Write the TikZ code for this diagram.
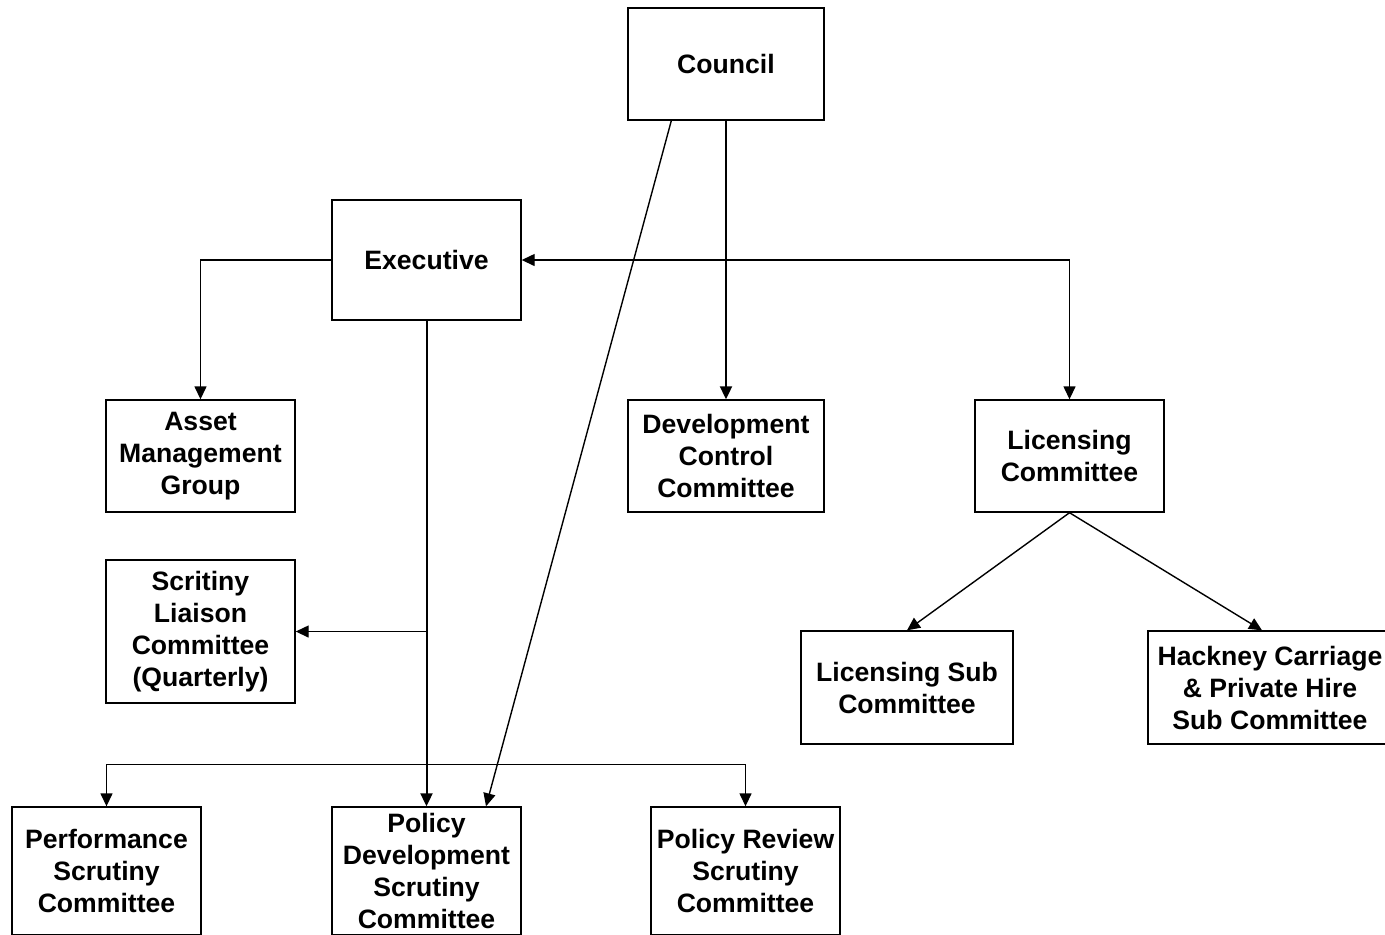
\documentclass[tikz,border=0pt]{standalone}
\usepackage{fontspec}
\setmainfont{Liberation Sans}
\usetikzlibrary{arrows.meta, positioning, calc}

\begin{document}
\begin{tikzpicture}[
      x=0.5pt, y=-0.5pt,
      box/.style={rectangle, draw, line width=0.7pt, align=center,
                  minimum width=94.5pt, minimum height=56pt,
                  font=\fontsize{13.3}{16}\selectfont\bfseries, inner sep=0pt},
      arr/.style={line width=0.7pt, -{Triangle[length=6.5pt, width=6pt]}},
      dbl/.style={line width=0.7pt, {Triangle[length=6.5pt, width=6pt]}-{Triangle[length=6.5pt, width=6pt]}}
    ]
    \useasboundingbox (0,0) rectangle (1385,934);

    \node[box, minimum width=98pt] (council) at (726,64) {Council};
    \node[box, minimum height=60pt] (exec) at (426.5,260) {Executive};

    \node[box] (asset) at (200.5,456) {Asset\\Management\\Group};
    \node[box, minimum width=98pt] (devctrl) at (726,456) {Development\\Control\\Committee};
    \node[box] (lic) at (1069.5,456) {Licensing\\Committee};

    \node[box, minimum height=71.5pt] (liaison) at (200.5,631.5) {Scritiny\\Liaison\\Committee\\(Quarterly)};
    \node[box, minimum width=106pt, minimum height=56.5pt] (licsub) at (907,687.5) {Licensing Sub\\Committee};
    \node[box, minimum width=122pt, minimum height=56.5pt] (hackney) at (1270,687.5) {Hackney Carriage\\\& Private Hire\\Sub Committee};

    \node[box, minimum height=64pt] (perf) at (106.5,871) {Performance\\Scrutiny\\Committee};
    \node[box, minimum height=64pt] (poldev) at (426.5,871) {Policy\\Development\\Scrutiny\\Committee};
    \node[box, minimum height=64pt] (polrev) at (745.5,871) {Policy Review\\Scrutiny\\Committee};

    \coordinate (toliaison) at (exec.south |- liaison.east);
    \coordinate (fork) at ($(exec.south)!0.914!(poldev.north)$);

    \draw[arr, line width=1pt] (council.south) -- (devctrl.north);
    \draw[arr] ($(council.south west)+(44,0)$) -- ($(poldev.north)+(59.5,0)$);
    \draw[arr] (exec.west) -| (asset.north);
    \draw[dbl] (exec.east) -| (lic.north);
    \draw[arr, line width=1pt] (exec.south) -- (poldev.north);
    \draw[arr] (toliaison) -- (liaison.east);
    \draw[arr] (fork) -| (perf.north);
    \draw[arr] (fork) -| (polrev.north);
    \draw[arr] (lic.south) -- (licsub.north);
    \draw[arr] (lic.south) -- ($(hackney.north)+(-8,0)$);

  \end{tikzpicture}
\end{document}
